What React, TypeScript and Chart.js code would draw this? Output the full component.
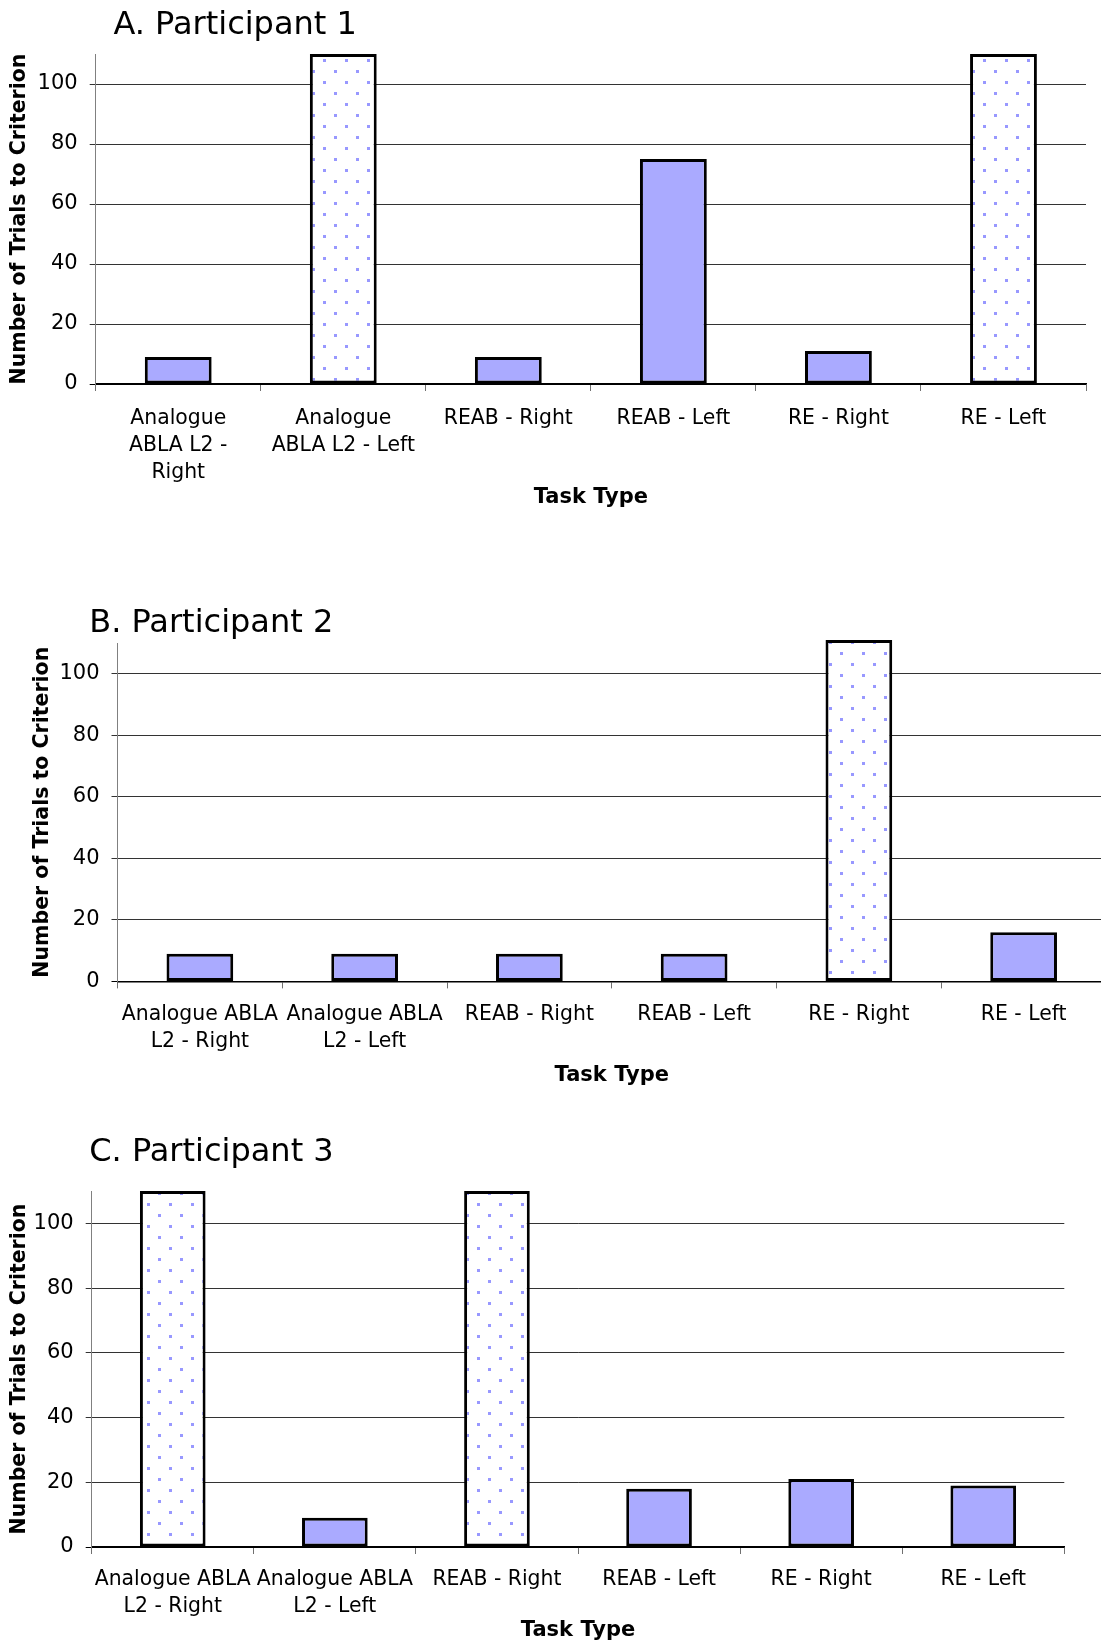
import React, { useEffect, useRef } from 'react';
import { Chart, registerables } from 'chart.js';

Chart.register(...registerables);

// ---------- data ----------
const categoriesA: (string | string[])[] = [
  ['Analogue', 'ABLA L2 -', 'Right'],
  ['Analogue', 'ABLA L2 - Left'],
  'REAB - Right',
  'REAB - Left',
  'RE - Right',
  'RE - Left',
];
const categoriesBC: (string | string[])[] = [
  ['Analogue ABLA', 'L2 - Right'],
  ['Analogue ABLA', 'L2 - Left'],
  'REAB - Right',
  'REAB - Left',
  'RE - Right',
  'RE - Left',
];
const valuesA = [9, 110, 9, 75, 11, 110];
const valuesB = [9, 9, 9, 9, 111, 16];
const valuesC = [110, 9, 110, 18, 21, 19];
// false = criterion not reached (dotted bar)
const criterionMetA = [true, false, true, true, true, false];
const criterionMetB = [true, true, true, true, false, true];
const criterionMetC = [false, true, false, true, true, true];
const yMin = 0;
const yMax = 110;
const yStep = 20;
const panelTitles = ['A. Participant 1', 'B. Participant 2', 'C. Participant 3'];
const yAxisTitle = 'Number of Trials to Criterion';
const xAxisTitle = 'Task Type';

// ---------- layout / style ----------
const FONT = '"DejaVu Sans", Verdana, sans-serif';
const SOLID = '#AAAAFF';

type Layout = {
  top: number; height: number; canvasWidth: number;
  areaTop: number; zeroY: number; yAxisWidth: number; yTitlePad: number;
  padRight: number; xTitleCenter: number; titleX: number; titleBaseline: number;
  labelPad: number;
};

const layoutA: Layout = { top: 0, height: 520, canvasWidth: 1101, areaTop: 54, zeroY: 384, yAxisWidth: 95.7, yTitlePad: 7, padRight: 15, xTitleCenter: 497.5, titleX: 113.4, titleBaseline: 34, labelPad: 14 };
const layoutB: Layout = { top: 560, height: 540, canvasWidth: 1110, areaTop: 83, zeroY: 421.4, yAxisWidth: 117.5, yTitlePad: 30, padRight: 4, xTitleCenter: 515.8, titleX: 89.2, titleBaseline: 72, labelPad: 12.5 };
const layoutC: Layout = { top: 1100, height: 545, canvasWidth: 1101, areaTop: 91, zeroY: 447, yAxisWidth: 91.7, yTitlePad: 7, padRight: 36.7, xTitleCenter: 531, titleX: 89.2, titleBaseline: 61, labelPad: 12.5 };

const titlePlugin = {
  id: 'panelTitle',
  afterDraw(chart: any, _args: any, opts: any) {
    const ctx = chart.ctx;
    ctx.save();
    ctx.font = `32px ${FONT}`;
    ctx.fillStyle = '#000';
    ctx.textAlign = 'left';
    ctx.textBaseline = 'alphabetic';
    ctx.fillText(opts.text, opts.x, opts.y);
    ctx.restore();
  },
};

function makeDotPattern(ctx: CanvasRenderingContext2D): CanvasPattern | string {
  const tile = document.createElement('canvas');
  tile.width = 22;
  tile.height = 22;
  const t = tile.getContext('2d');
  if (!t) return '#fff';
  t.fillStyle = '#ffffff';
  t.fillRect(0, 0, 22, 22);
  t.fillStyle = '#9898ff';
  t.fillRect(4, 4, 3, 3);
  t.fillRect(15, 15, 3, 3);
  return ctx.createPattern(tile, 'repeat') || '#fff';
}

function Panel(props: {
  labels: (string | string[])[]; values: number[]; met: boolean[];
  title: string; layout: Layout;
}) {
  const ref = useRef<HTMLCanvasElement>(null);
  const { labels, values, met, title, layout: L } = props;

  useEffect(() => {
    const canvas = ref.current;
    if (!canvas) return;
    const ctx = canvas.getContext('2d');
    if (!ctx) return;
    const pattern = makeDotPattern(ctx);
    const xScaleHeight = L.height - L.zeroY;
    const titleSize = 21;
    const titleLH = titleSize * 1.2;

    const chart = new Chart(ctx, {
      type: 'bar',
      data: {
        labels,
        datasets: [
          {
            data: values,
            backgroundColor: met.map((m) => (m ? SOLID : pattern)) as any,
            borderColor: '#000',
            borderWidth: 3,
            borderSkipped: false,
            barPercentage: 0.405,
            categoryPercentage: 1,
            clip: false as any,
          },
        ],
      },
      options: {
        responsive: false,
        maintainAspectRatio: false,
        animation: false,
        devicePixelRatio: 1,
        layout: { padding: { top: L.areaTop, right: L.padRight, left: 0, bottom: 0 } },
        plugins: {
          legend: { display: false },
          tooltip: { enabled: false },
          title: { display: false },
          panelTitle: { text: title, x: L.titleX, y: L.titleBaseline },
        } as any,
        scales: {
          x: {
            type: 'category',
            offset: true,
            grid: {
              display: true,
              offset: true,
              drawOnChartArea: false,
              drawTicks: true,
              tickLength: 7,
              color: '#707070',
              lineWidth: 1,
            },
            border: { display: true, color: '#000', width: 1.5 },
            ticks: {
              autoSkip: false,
              maxRotation: 0,
              minRotation: 0,
              padding: L.labelPad,
              color: '#000',
              font: { family: FONT, size: 20.4, lineHeight: 1.32 },
            },
            title: {
              display: true,
              text: xAxisTitle,
              color: '#000',
              font: { family: FONT, size: titleSize, weight: 'bold', lineHeight: 1.2 },
              padding: { top: 0, bottom: L.height - L.xTitleCenter - titleLH / 2 },
            },
            afterFit: (scale: any) => {
              scale.height = xScaleHeight;
            },
          },
          y: {
            type: 'linear',
            min: yMin,
            max: yMax,
            grid: {
              display: true,
              drawTicks: true,
              tickLength: 6,
              color: (c: any) => (c.tick && c.tick.value === 0 ? '#000' : '#333'),
              lineWidth: 1,
            },
            border: { display: true, color: '#808080', width: 1 },
            ticks: {
              stepSize: yStep,
              includeBounds: false,
              padding: 12,
              color: '#000',
              font: { family: FONT, size: 21 },
            },
            title: {
              display: true,
              text: yAxisTitle,
              color: '#000',
              font: { family: FONT, size: 20.5, weight: 'bold', lineHeight: 1.2 },
              padding: { top: L.yTitlePad, bottom: 0 },
            },
            afterFit: (scale: any) => {
              scale.width = L.yAxisWidth;
            },
          },
        },
      } as any,
      plugins: [titlePlugin as any],
    });
    return () => chart.destroy();
  }, []);

  return (
    <div
      style={{
        position: 'absolute',
        left: 0,
        top: L.top,
        width: 1101,
        height: L.height,
        overflow: 'hidden',
      }}
    >
      <canvas
        ref={ref}
        width={L.canvasWidth}
        height={L.height}
        style={{ display: 'block', width: L.canvasWidth, height: L.height }}
      />
    </div>
  );
}

export default function App() {
  return (
    <div
      style={{
        position: 'absolute',
        left: 0,
        top: 0,
        width: 1101,
        height: 1645,
        background: '#fff',
        overflow: 'hidden',
      }}
    >
      <Panel labels={categoriesA} values={valuesA} met={criterionMetA} title={panelTitles[0]} layout={layoutA} />
      <Panel labels={categoriesBC} values={valuesB} met={criterionMetB} title={panelTitles[1]} layout={layoutB} />
      <Panel labels={categoriesBC} values={valuesC} met={criterionMetC} title={panelTitles[2]} layout={layoutC} />
    </div>
  );
}
